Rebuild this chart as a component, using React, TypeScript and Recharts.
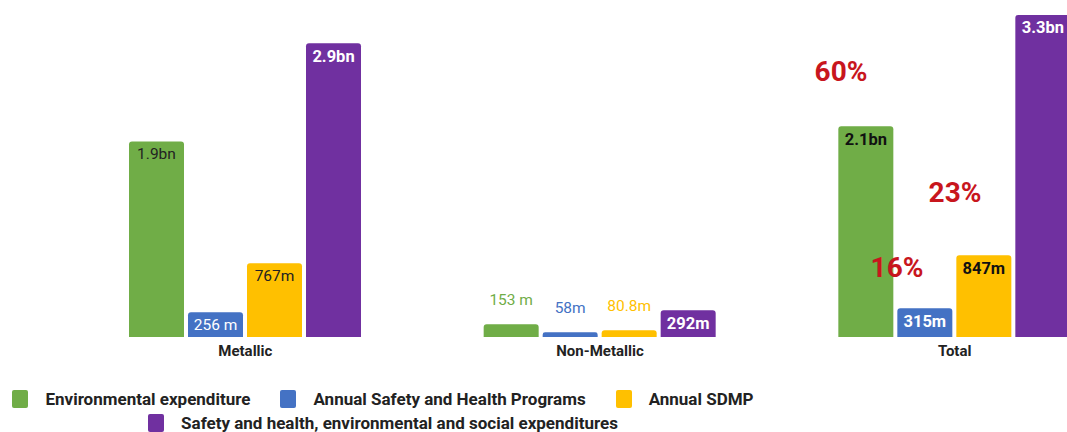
import React from 'react';
import { BarChart, Bar, XAxis, YAxis, LabelList } from 'recharts';

// categories and series values (millions)
const categories = ['Metallic', 'Non-Metallic', 'Total'];
const envValues = [1938, 126, 2089];
const safetyValues = [245, 47, 284];
const sdmpValues = [730, 66, 809];
const totalValues = [2911, 264, 3192];

// labels printed on the bars
const envLabels = ['1.9bn', '153 m', '2.1bn'];
const safetyLabels = ['256 m', '58m', '315m'];
const sdmpLabels = ['767m', '80.8m', '847m'];
const totalLabels = ['2.9bn', '292m', '3.3bn'];

const seriesNames = [
  'Environmental expenditure',
  'Annual Safety and Health Programs',
  'Annual SDMP',
  'Safety and health, environmental and social expenditures',
];
const colors = ['#70ad47', '#4472c4', '#ffc000', '#7030a0'];

const data = categories.map((name, i) => ({
  name,
  env: envValues[i],
  safety: safetyValues[i],
  sdmp: sdmpValues[i],
  total: totalValues[i],
}));

// label look per series, per category
const labelStyles = [
  { fill: ['#222', '#70ad47', '#111'], weight: [400, 400, 700], above: [false, true, false] },
  { fill: ['#fff', '#4472c4', '#fff'], weight: [400, 400, 700], above: [false, true, false] },
  { fill: ['#222', '#ffc000', '#111'], weight: [400, 400, 700], above: [false, true, false] },
  { fill: ['#fff', '#fff', '#fff'], weight: [700, 700, 700], above: [false, false, false] },
];

const FONT = 'Roboto, "Noto Sans", sans-serif';

const makeLabel = (texts: string[], s: number) => (props: any) => {
  const { x, y, width, index } = props;
  const st = labelStyles[s];
  const bold = st.weight[index] === 700;
  const cy = st.above[index] ? y - 24 : y + 13;
  return (
    <text
      x={x + width / 2}
      y={cy}
      textAnchor="middle"
      dominantBaseline="central"
      fill={st.fill[index]}
      fontSize={bold ? 16.5 : 15.5}
      fontWeight={st.weight[index]}
      fontFamily={FONT}
    >
      {texts[index]}
    </text>
  );
};

const percentNotes = [
  { text: '60%', left: 841, top: 72 },
  { text: '23%', left: 955, top: 193 },
  { text: '16%', left: 897, top: 268 },
];

const App = () => {
  return (
    <div style={{ position: 'absolute', left: 0, top: 0, width: 1067, height: 432, overflow: 'hidden', background: '#fff', fontFamily: FONT }}>
      <BarChart width={1140} height={367} data={data} margin={{ top: 4, right: 8, left: 68, bottom: 0 }} barSize={55} barGap={4}>
        <XAxis
          dataKey="name"
          axisLine={false}
          tickLine={false}
          height={30}
          tick={{ fill: '#222', fontSize: 15, fontWeight: 700, fontFamily: FONT }}
        />
        <YAxis hide domain={[0, 3300]} />
        <Bar dataKey="env" fill={colors[0]} radius={[3, 3, 0, 0]} isAnimationActive={false}>
          <LabelList content={makeLabel(envLabels, 0)} />
        </Bar>
        <Bar dataKey="safety" fill={colors[1]} radius={[3, 3, 0, 0]} isAnimationActive={false}>
          <LabelList content={makeLabel(safetyLabels, 1)} />
        </Bar>
        <Bar dataKey="sdmp" fill={colors[2]} radius={[3, 3, 0, 0]} isAnimationActive={false}>
          <LabelList content={makeLabel(sdmpLabels, 2)} />
        </Bar>
        <Bar dataKey="total" fill={colors[3]} radius={[3, 3, 0, 0]} isAnimationActive={false}>
          <LabelList content={makeLabel(totalLabels, 3)} />
        </Bar>
      </BarChart>

      {percentNotes.map((p) => (
        <div
          key={p.text}
          style={{
            position: 'absolute',
            left: p.left,
            top: p.top,
            transform: 'translate(-50%, -50%)',
            color: '#c8161d',
            fontSize: 28,
            fontWeight: 700,
            lineHeight: 1,
          }}
        >
          {p.text}
        </div>
      ))}

      <div
        style={{
          position: 'absolute',
          left: 0,
          top: 390,
          width: 766,
          display: 'flex',
          flexWrap: 'wrap',
          justifyContent: 'center',
          rowGap: 6,
          columnGap: 30,
        }}
      >
        {seriesNames.map((n, i) => (
          <div key={n} style={{ display: 'flex', alignItems: 'center', height: 18 }}>
            <span style={{ display: 'inline-block', width: 16, height: 18, borderRadius: 2, background: colors[i], marginRight: 17 }} />
            <span style={{ fontSize: 17, lineHeight: '18px', fontWeight: 700, color: '#222' }}>{n}</span>
          </div>
        ))}
      </div>
    </div>
  );
};

export default App;
